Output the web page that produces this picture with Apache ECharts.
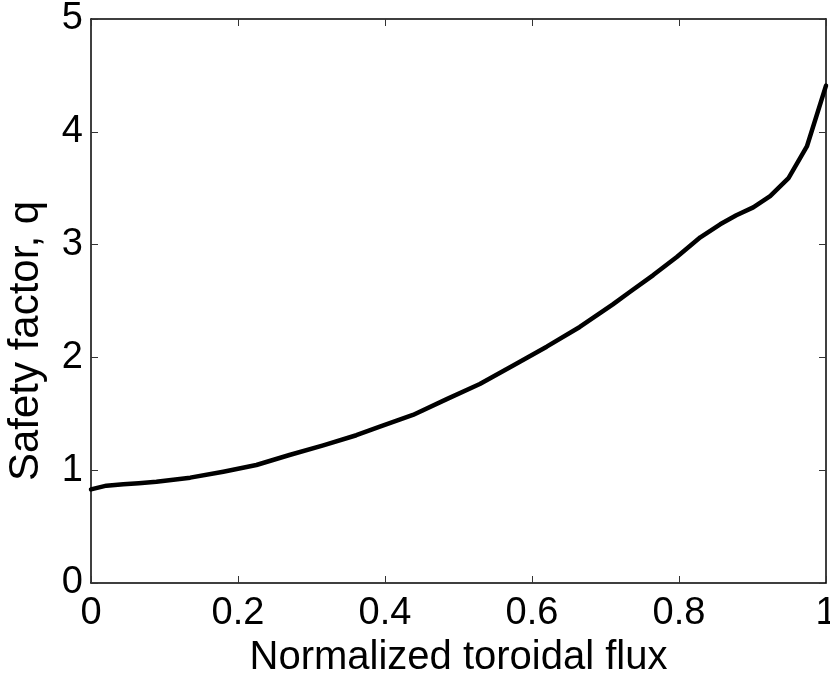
<!DOCTYPE html>
<html>
<head>
<meta charset="utf-8">
<script src="https://cdn.jsdelivr.net/npm/echarts@6/dist/echarts.min.js"></script>
<style>
html,body{margin:0;padding:0;background:#fff;}
#chart{width:830px;height:673px;}
</style>
</head>
<body>
<div id="chart"></div>
<script>
var fluxValues = [0, 0.021, 0.044, 0.065, 0.089, 0.135, 0.18, 0.225, 0.27, 0.316, 0.361, 0.393, 0.438, 0.484, 0.529, 0.575, 0.62, 0.665, 0.71, 0.733, 0.765, 0.797, 0.829, 0.856, 0.878, 0.901, 0.924, 0.949, 0.974, 1.0];
var qValues = [0.83, 0.863, 0.875, 0.885, 0.898, 0.934, 0.987, 1.046, 1.135, 1.22, 1.31, 1.386, 1.49, 1.63, 1.764, 1.93, 2.095, 2.27, 2.47, 2.58, 2.73, 2.89, 3.065, 3.18, 3.26, 3.33, 3.43, 3.59, 3.87, 4.41];
var xTickLabels = ['0', '0.2', '0.4', '0.6', '0.8', '1'];
var yTickLabels = ['0', '1', '2', '3', '4', '5'];
var xLabel = 'Normalized toroidal flux';
var yLabel = 'Safety factor, q';

var seriesData = fluxValues.map(function (x, i) { return [x, qValues[i]]; });
var font = 'Liberation Sans, Arial, Helvetica, sans-serif';

var chart = echarts.init(document.getElementById('chart'), null, {renderer: 'canvas'});
var axisLineStyle = {color: '#000', width: 1.5};
var tickStyle = {show: true, inside: true, length: 7, lineStyle: {color: '#333', width: 1}};

chart.setOption({
  animation: false,
  backgroundColor: '#fff',
  grid: {left: 91, top: 19, right: 4, bottom: 90, containLabel: false, outerBoundsMode: 'none'},
  xAxis: [{
    type: 'value', min: 0, max: 1, interval: 0.2, position: 'bottom',
    axisLine: {show: true, onZero: false, lineStyle: axisLineStyle},
    axisTick: tickStyle,
    splitLine: {show: false},
    axisLabel: {
      color: '#000', fontSize: 38, fontFamily: font, margin: 12,
      showMinLabel: true, showMaxLabel: true,
      formatter: function (v) { return xTickLabels[Math.round(v / 0.2)]; }
    },
    name: xLabel, nameLocation: 'middle', nameGap: 48,
    nameTextStyle: {color: '#000', fontSize: 40, fontFamily: font}
  }, {
    type: 'value', min: 0, max: 1, interval: 0.2, position: 'top',
    axisLine: {show: true, onZero: false, lineStyle: axisLineStyle},
    axisTick: tickStyle, axisLabel: {show: false}, splitLine: {show: false}
  }],
  yAxis: [{
    type: 'value', min: 0, max: 5, interval: 1, position: 'left',
    axisLine: {show: true, onZero: false, lineStyle: axisLineStyle},
    axisTick: tickStyle,
    splitLine: {show: false},
    axisLabel: {
      color: '#000', fontSize: 38, fontFamily: font, margin: 8,
      showMinLabel: true, showMaxLabel: true,
      formatter: function (v) { return yTickLabels[Math.round(v)]; }
    }
  }, {
    type: 'value', min: 0, max: 5, interval: 1, position: 'right',
    axisLine: {show: true, onZero: false, lineStyle: axisLineStyle},
    axisTick: tickStyle, axisLabel: {show: false}, splitLine: {show: false}
  }],
  graphic: [{
    type: 'text', x: 26, y: 341, rotation: Math.PI / 2,
    style: {text: yLabel, fill: '#000', fontSize: 42, fontFamily: font, align: 'center', verticalAlign: 'middle'}
  }],
  series: [{
    type: 'line', xAxisIndex: 0, yAxisIndex: 0,
    data: seriesData, showSymbol: false, smooth: false,
    lineStyle: {color: '#000', width: 4.5, cap: 'round', join: 'round'}
  }]
});
</script>
</body>
</html>
